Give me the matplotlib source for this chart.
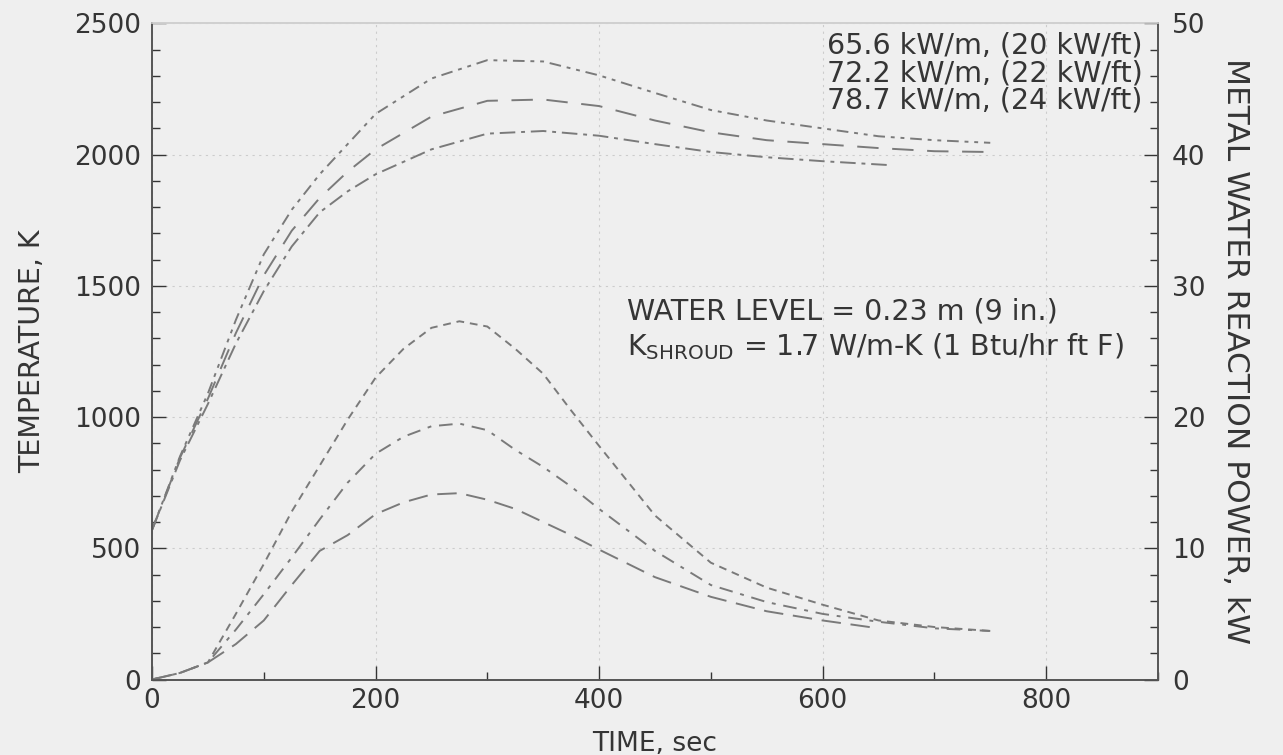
import matplotlib
matplotlib.use("Agg")
import matplotlib.pyplot as plt
from matplotlib.ticker import MultipleLocator

# cladding temperature, K
t_temp = [0, 25, 50, 75, 100, 125, 150, 175, 200, 250, 300, 350, 400, 450, 500, 550, 600, 650, 700, 750]
temp_24 = [570, 850, 1090, 1370, 1620, 1790, 1925, 2040, 2155, 2290, 2360, 2355, 2302, 2235, 2170, 2130, 2100, 2070, 2055, 2045]
temp_22 = [570, 845, 1070, 1320, 1540, 1710, 1835, 1935, 2020, 2145, 2205, 2210, 2185, 2130, 2085, 2055, 2040, 2025, 2013, 2010]
t_temp_20 = [0, 25, 50, 75, 100, 125, 150, 175, 200, 250, 300, 350, 400, 450, 500, 550, 600, 660]
temp_20 = [570, 835, 1050, 1280, 1480, 1650, 1780, 1860, 1925, 2020, 2080, 2090, 2072, 2040, 2010, 1990, 1975, 1960]

# metal-water reaction power, kW
t_pow = [0, 25, 50, 75, 100, 125, 150, 175, 200, 225, 250, 275, 300, 325, 350, 375, 400, 450, 500, 550, 600, 650, 700, 750]
pow_24 = [0, 0.5, 1.3, 5.0, 8.8, 12.8, 16.3, 19.8, 23.0, 25.2, 26.8, 27.3, 26.9, 25.2, 23.3, 20.5, 17.8, 12.5, 8.9, 7.0, 5.7, 4.5, 4.0, 3.7]
pow_22 = [0, 0.5, 1.3, 3.8, 6.5, 9.3, 12.2, 15.0, 17.2, 18.5, 19.3, 19.5, 19.0, 17.5, 16.2, 14.7, 13.0, 9.8, 7.2, 5.9, 5.0, 4.4, 3.9, 3.7]
t_pow_20 = [0, 25, 50, 75, 100, 125, 150, 175, 200, 225, 250, 275, 300, 325, 350, 375, 400, 450, 500, 550, 600, 650]
pow_20 = [0, 0.5, 1.3, 2.7, 4.5, 7.2, 9.8, 11.0, 12.6, 13.5, 14.1, 14.2, 13.7, 13.0, 12.0, 11.0, 9.9, 7.8, 6.3, 5.2, 4.5, 3.9]

legend_lines = ["65.6 kW/m, (20 kW/ft)", "72.2 kW/m, (22 kW/ft)", "78.7 kW/m, (24 kW/ft)"]

ink = "#353535"
curve = "#7a7a7a"
plt.rcParams['font.family'] = ['DejaVu Sans']

fig = plt.figure(figsize=(12.83, 7.55), dpi=100, facecolor="#efefef")
ax = fig.add_axes([0.1185, 0.100, 0.7840, 0.869])
ax.set_facecolor("#efefef")
ax2 = ax.twinx()

ax.plot(t_temp, temp_24, color=curve, lw=1.4, ls=(0, (6, 3, 2, 3, 2, 3)))
ax.plot(t_temp, temp_22, color=curve, lw=1.4, ls=(0, (11, 7)))
ax.plot(t_temp_20, temp_20, color=curve, lw=1.4, ls=(0, (8, 3, 2, 3)))

ax2.plot(t_pow, pow_24, color=curve, lw=1.4, ls=(0, (4, 3)))
ax2.plot(t_pow, pow_22, color=curve, lw=1.4, ls=(0, (7, 4, 2, 4)))
ax2.plot(t_pow_20, pow_20, color=curve, lw=1.4, ls=(0, (10, 5)))

ax.set_xlim(0, 900)
ax.set_ylim(0, 2500)
ax2.set_ylim(0, 50)

ax.xaxis.set_major_locator(MultipleLocator(200))
ax.xaxis.set_minor_locator(MultipleLocator(100))
ax.yaxis.set_major_locator(MultipleLocator(500))
ax.yaxis.set_minor_locator(MultipleLocator(100))
ax2.yaxis.set_major_locator(MultipleLocator(10))
ax2.yaxis.set_minor_locator(MultipleLocator(2))

ax.set_xticks([0, 200, 400, 600, 800])
ax.grid(True, which="major", color="#cccccc", lw=0.8, ls=(0, (2, 4)))

for a in (ax, ax2):
    a.tick_params(which="both", direction="in", colors=ink, labelsize=19, width=1)
    a.tick_params(which="major", length=10)
    a.tick_params(which="minor", length=6)
    for s in a.spines.values():
        s.set_color("#555555")
        s.set_linewidth(1.2)
ax.spines["top"].set_color("#d0d0d0")
ax2.spines["top"].set_color("#d0d0d0")
ax.tick_params(axis="y", pad=8)
ax2.tick_params(axis="y", pad=10)
ax.tick_params(axis="x", pad=6)

ax.set_xlabel("TIME, sec", fontsize=19, color=ink, labelpad=12)
ax.set_ylabel("TEMPERATURE, K", fontsize=20.5, color=ink, labelpad=20)
ax2.set_ylabel("METAL WATER REACTION POWER, kW", fontsize=22.5, color=ink,
               rotation=-90, labelpad=32)

for i, s in enumerate(legend_lines):
    ax.text(0.985, 0.966 - i * 0.042, s, transform=ax.transAxes, ha="right", va="center",
            fontsize=20.5, color=ink)

ax.text(425, 1401, "WATER LEVEL = 0.23 m (9 in.)", fontsize=20.5, color=ink, va="center")
ax.text(425, 1267, r"K$_{\mathregular{SHROUD}}$ = 1.7 W/m-K (1 Btu/hr ft F)", fontsize=20.5,
        color=ink, va="center")

fig.savefig("out.png", dpi=100, facecolor=fig.get_facecolor())
